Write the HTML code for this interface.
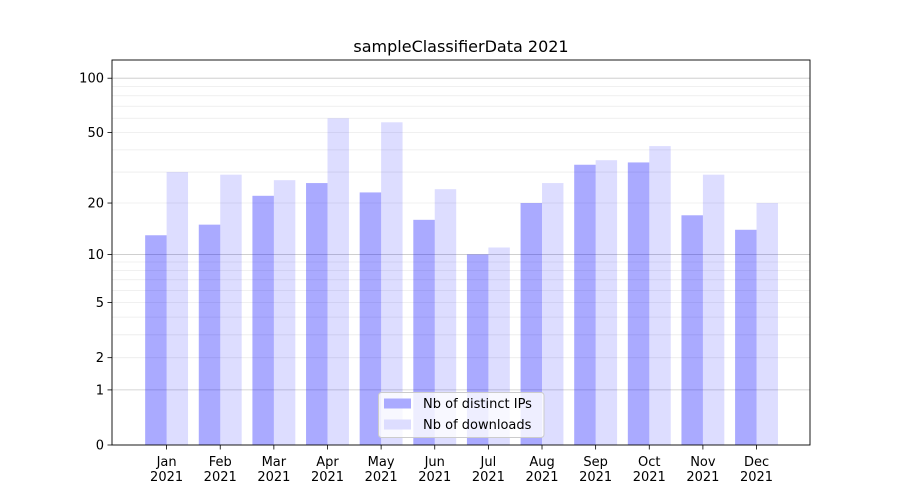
<!DOCTYPE html>
<html><head><meta charset="utf-8"><style>
body{margin:0;background:#fff}
svg{display:block;font-family:"DejaVu Sans","Liberation Sans",sans-serif}
</style></head><body>
<svg id="s" width="900" height="500" viewBox="0 0 900 500" xmlns="http://www.w3.org/2000/svg">
<rect width="900" height="500" fill="#fff"/>
<g id="g"></g>
<text x="461" y="52" font-size="16" text-anchor="middle" fill="#000">sampleClassifierData 2021</text>
</svg>
<script>
var g=document.getElementById('g'),h='';
function Y(v){return 445-183*Math.log10(1+v);}
var L=112,R=810,T=60,B=445;
[2,3,4,5,6,7,8,9,20,30,40,50,60,70,80,90].forEach(function(v){var y=Y(v);h+='<line x1="'+L+'" x2="'+R+'" y1="'+y+'" y2="'+y+'" stroke="#ebebeb" stroke-width="0.8"/>';});
[1,10,100].forEach(function(v){var y=Y(v);h+='<line x1="'+L+'" x2="'+R+'" y1="'+y+'" y2="'+y+'" stroke="#c8c8c8" stroke-width="0.8"/>';});
var d=[13,15,22,26,23,16,10,20,33,34,17,14],l=[30,29,27,60,57,24,11,26,35,42,29,20];
var m=['Jan','Feb','Mar','Apr','May','Jun','Jul','Aug','Sep','Oct','Nov','Dec'];
var w=21.45;
for(var i=0;i<12;i++){var c=166.6+i*53.63;
h+='<rect x="'+(c-w)+'" y="'+Y(d[i])+'" width="'+w+'" height="'+(B-Y(d[i]))+'" fill="#0000ff" fill-opacity="0.333"/>';
h+='<rect x="'+c+'" y="'+Y(l[i])+'" width="'+w+'" height="'+(B-Y(l[i]))+'" fill="#0000ff" fill-opacity="0.133"/>';
h+='<line x1="'+c+'" x2="'+c+'" y1="445" y2="449.5" stroke="#000" stroke-width="0.8"/>';
h+='<text x="'+c+'" y="466" font-size="13" text-anchor="middle">'+m[i]+'</text>';
h+='<text x="'+c+'" y="481" font-size="13" text-anchor="middle">2021</text>';}
[0,1,2,5,10,20,50,100].forEach(function(v){var y=Y(v);h+='<line x1="'+(L-4.5)+'" x2="'+L+'" y1="'+y+'" y2="'+y+'" stroke="#000" stroke-width="0.8"/>';
h+='<text x="'+(L-8)+'" y="'+(y+4.5)+'" font-size="13" text-anchor="end">'+v+'</text>';});
h+='<rect x="'+L+'" y="'+T+'" width="'+(R-L)+'" height="'+(B-T)+'" fill="none" stroke="#000" stroke-width="0.9"/>';
h+='<rect x="378.5" y="392.5" width="165.5" height="45" rx="3" fill="#fff" fill-opacity="0.8" stroke="#ccc"/>';
h+='<rect x="384" y="398.5" width="27" height="10" fill="#aaaaff"/><text x="423" y="408" font-size="13">Nb of distinct IPs</text>';
h+='<rect x="384" y="419.5" width="27" height="10" fill="#ddddff"/><text x="423" y="429" font-size="13">Nb of downloads</text>';
g.innerHTML=h;
</script>
</body></html>
